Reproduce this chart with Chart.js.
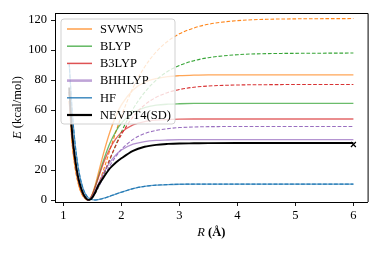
<!DOCTYPE html>
<html><head><meta charset="utf-8">
<script src="https://cdn.jsdelivr.net/npm/chart.js@4/dist/chart.umd.min.js"></script>
<style>html,body{margin:0;padding:0;background:#fff}canvas{display:block}</style>
</head><body>
<canvas id="c" width="381" height="254"></canvas>
<script>
const R = [1.1,1.15,1.2,1.25,1.3,1.35,1.4,1.43,1.45,1.5,1.55,1.6,1.7,1.8,1.9,2.0,2.2,2.4,2.6,2.8,3.0,3.25,3.5,4.0,4.5,5.0,6.0];
const svwn5Solid  = [66,38,22,12,5.5,2,0.3,0, 0.4,4.2,10.3,17.5,32.3,45.2,55.6,63.4,73.4,78.5,81.0,82.3,82.9,83.3,83.5,83.5,83.5,83.5,83.5];
const svwn5Dashed = [66,38,22,12,5.5,2,0.3,0, 0.2,2.1,5.5,10.0,21.0,33.1,44.9,56.0,74.8,88.7,98.8,105.9,110.8,114.7,117.2,119.6,120.5,120.8,121.0];
const blypSolid   = [72,43,26,14.5,7.5,3,0.5,0, 0.4,3.7,9.0,15.2,27.3,37.6,45.5,51.3,58.3,61.6,63.2,63.9,64.2,64.4,64.5,64.5,64.5,64.5,64.5];
const blypDashed  = [72,43,26,14.5,7.5,3,0.5,0, 0.15,1.7,4.5,8.1,17.0,26.8,36.4,45.3,60.6,71.8,80.0,85.8,89.7,92.9,94.9,96.9,97.6,97.8,98.0];
const b3lypSolid  = [72,43,26,14.5,7.5,3,0.5,0, 0.4,3.7,8.8,14.5,25.5,34.2,40.6,45.1,50.1,52.3,53.3,53.7,53.9,54.0,54.0,54.0,54.0,54.0,54.0];
const b3lypDashed = [72,43,26,14.5,7.5,3,0.5,0, 0.2,1.9,5.0,9.0,18.0,27.4,36.0,43.6,55.4,63.4,68.5,71.7,73.7,75.2,76.0,76.7,76.9,77.0,77.0];
const bhhlypSolid = [74,44,27,15,8,3.2,0.6,0, 0.3,2.6,6.3,10.5,18.5,25.1,29.9,33.3,37.2,38.9,39.7,40.0,40.2,40.3,40.3,40.3,40.3,40.3,40.3];
const bhhlypDashed= [73,44,27,15,8,3.2,0.6,0, 0.2,1.9,4.7,8.2,15.8,22.8,28.8,33.7,40.4,44.3,46.4,47.6,48.3,48.7,48.9,49.0,49.0,49.0,49.0];
const hfSolid     = [91,60,38,23,13,6.5,2.8,1.5, 0.9,0.2,0,0.3,1.2,2.5,3.9,5.2,7.6,9.1,9.9,10.3,10.5,10.6,10.6,10.6,10.6,10.6,10.6];
const hfDashed    = [91,60,38,23,13,6.5,2.8,1.5, 0.9,0.2,0,0.3,1.2,2.5,3.9,5.2,7.6,9.1,9.9,10.3,10.5,10.6,10.6,10.6,10.6,10.6,10.6];
const nevpt4      = [75,45,28,16,8.5,3.5,0.8,0.1, 0.1,1.8,5.2,9.5,15.5,21.0,24.8,27.8,32.8,35.5,36.8,37.4,37.7,37.8,37.9,38.0,38.0,38.0,38.0];
const markerR = [6.0];
const markerE = [37.0];
const legendLabels = ["SVWN5","BLYP","B3LYP","BHHLYP","HF","NEVPT4(SD)"];
const xTicks = [1,2,3,4,5,6];
const yTicks = [0,20,40,60,80,100,120];

const pts = (ys, xs=R) => ys.map((y,i)=>({x:xs[i], y}));
const C = {
  orange:[255,127,14], green:[44,160,44], red:[214,39,40], purple:[148,103,189], blue:[31,119,180]
};
const rgba = (c,a)=>`rgba(${c[0]},${c[1]},${c[2]},${a})`;
function solid(d,c,order){return {data:pts(d),borderColor:rgba(c,0.7),borderWidth:1.3,pointRadius:0,cubicInterpolationMode:'monotone',order};}
function dashed(d,c,order){return {data:pts(d),borderColor:rgba(c,0.95),borderWidth:1.1,borderDash:[3.7,1.8],pointRadius:0,cubicInterpolationMode:'monotone',order};}

const FONT = '"Liberation Serif","DejaVu Serif",serif';
const datasets = [
  {data:pts(markerE,markerR),showLine:false,pointStyle:'crossRot',pointRadius:3.5,borderColor:'#000',borderWidth:1.2,order:0},
  {data:pts(nevpt4),borderColor:'#000',borderWidth:1.9,pointRadius:0,cubicInterpolationMode:'monotone',order:1},
  dashed(hfDashed,C.blue,2), solid(hfSolid,C.blue,3),
  dashed(bhhlypDashed,C.purple,4), solid(bhhlypSolid,C.purple,5),
  dashed(b3lypDashed,C.red,6), solid(b3lypSolid,C.red,7),
  dashed(blypDashed,C.green,8), solid(blypSolid,C.green,9),
  dashed(svwn5Dashed,C.orange,10), solid(svwn5Solid,C.orange,11)
];

const legendColors = [rgba(C.orange,0.75),rgba(C.green,0.75),rgba(C.red,0.8),rgba(C.purple,0.6),rgba(C.blue,0.85),'#000'];
const legendWidths = [1.5,1.5,1.5,2.6,1.5,2.2];

const deco = {
  id:'deco',
  afterDatasetsDraw(chart){
    const ctx = chart.ctx, a = chart.chartArea;
    ctx.save();
    // top & right spines
    ctx.strokeStyle='#000'; ctx.lineWidth=1;
    ctx.beginPath();
    ctx.moveTo(a.left, a.top+0.5); ctx.lineTo(a.right+0.5, a.top+0.5); ctx.lineTo(a.right+0.5, a.bottom);
    ctx.stroke();
    // legend box
    const lx=61, ly=19, lw=114, lh=105, r=3;
    ctx.beginPath();
    ctx.moveTo(lx+r,ly); ctx.lineTo(lx+lw-r,ly); ctx.quadraticCurveTo(lx+lw,ly,lx+lw,ly+r);
    ctx.lineTo(lx+lw,ly+lh-r); ctx.quadraticCurveTo(lx+lw,ly+lh,lx+lw-r,ly+lh);
    ctx.lineTo(lx+r,ly+lh); ctx.quadraticCurveTo(lx,ly+lh,lx,ly+lh-r);
    ctx.lineTo(lx,ly+r); ctx.quadraticCurveTo(lx,ly,lx+r,ly); ctx.closePath();
    ctx.fillStyle='rgba(255,255,255,0.8)'; ctx.fill();
    ctx.strokeStyle='rgba(204,204,204,0.9)'; ctx.lineWidth=1; ctx.stroke();
    ctx.font='12.5px '+FONT; ctx.textBaseline='middle'; ctx.textAlign='left'; ctx.fillStyle='#000';
    legendLabels.forEach((t,i)=>{
      const y = 29 + i*17.2;
      ctx.strokeStyle=legendColors[i]; ctx.lineWidth=legendWidths[i];
      ctx.beginPath(); ctx.moveTo(67,y); ctx.lineTo(92,y); ctx.stroke();
      ctx.fillText(t,100,y+0.5);
    });
    // axis titles
    ctx.textBaseline='middle';
    // x title: R (Å)
    const xc = (a.left+a.right)/2, yx = 233;
    ctx.font='italic 12.5px '+FONT; const wR = ctx.measureText('R').width;
    ctx.font='bold 12.5px '+FONT; const wA = ctx.measureText(' (Å)').width;
    let sx = xc - (wR+wA)/2;
    ctx.font='italic 12.5px '+FONT; ctx.fillText('R', sx, yx);
    ctx.font='bold 12.5px '+FONT; ctx.fillText(' (Å)', sx+wR, yx);
    // y title: E (kcal/mol)
    ctx.translate(18, (a.top+a.bottom)/2); ctx.rotate(-Math.PI/2);
    ctx.font='italic 12.5px '+FONT; const wE = ctx.measureText('E').width;
    ctx.font='12.5px '+FONT; const wK = ctx.measureText(' (kcal/mol)').width;
    sx = -(wE+wK)/2;
    ctx.font='italic 12.5px '+FONT; ctx.fillText('E', sx, 0);
    ctx.font='12.5px '+FONT; ctx.fillText(' (kcal/mol)', sx+wE, 0);
    ctx.restore();
  }
};

new Chart(document.getElementById('c'), {
  type:'line',
  data:{datasets},
  options:{
    responsive:false, animation:false, devicePixelRatio:1,
    layout:{padding:{left:0,right:13.4,top:13,bottom:0}},
    plugins:{legend:{display:false},tooltip:{enabled:false}},
    scales:{
      x:{type:'linear',min:0.855,max:6.245,
        afterBuildTicks:s=>{s.ticks=xTicks.map(v=>({value:v}));},
        afterFit:s=>{s.height=52;},
        grid:{display:true,drawOnChartArea:false,drawTicks:true,tickLength:4,color:'#000',lineWidth:0.9},
        border:{display:true,color:'#000',width:1},
        ticks:{color:'#000',font:{family:FONT,size:12.5},padding:2,maxRotation:0,callback:v=>String(v)}},
      y:{type:'linear',min:-1.33,max:124.7,
        afterBuildTicks:s=>{s.ticks=yTicks.map(v=>({value:v}));},
        afterFit:s=>{s.width=55;},
        grid:{display:true,drawOnChartArea:false,drawTicks:true,tickLength:4,color:'#000',lineWidth:0.9},
        border:{display:true,color:'#000',width:1},
        ticks:{color:'#000',font:{family:FONT,size:12.5},padding:4,callback:v=>String(v)}}
    }
  },
  plugins:[deco]
});
</script>
</body></html>
